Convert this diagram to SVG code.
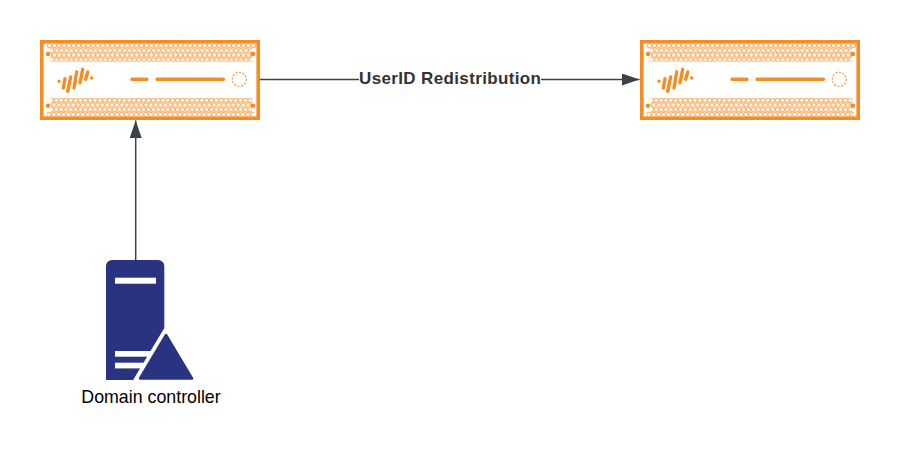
<svg xmlns="http://www.w3.org/2000/svg" xmlns:xlink="http://www.w3.org/1999/xlink" width="900" height="450" viewBox="0 0 900 450">
<style>
.frame{fill:#fff;stroke:#F58D24;stroke-width:3.6}
.hole{fill:none;stroke:#F58D24;stroke-width:.8}
.pin{fill:#F58D24}
.bar{stroke:#F58D24;stroke-width:3.4;stroke-linecap:round;fill:none}
.logo{stroke:#F58D24;stroke-width:3.4;stroke-linecap:round;fill:none}
.wire{stroke:#3A414A;stroke-width:1.5;fill:none}
.label{font-family:"Liberation Sans",Arial,sans-serif;fill:#000}
.navy{fill:#2A3382}
</style>
<defs>
<marker id="head" markerUnits="userSpaceOnUse" markerWidth="18" markerHeight="12" refX="17.500" refY="6" orient="auto"><path d="M0 0L17.500 6L0 12Z" fill="#3A414A"/></marker>
<pattern id="hexa" patternUnits="userSpaceOnUse" x="47" y="43.350" width="4.850" height="9.400"><circle cx="2.425" cy="2.350" r="2.150" class="hole"/><circle cx="0" cy="7.050" r="2.150" class="hole"/><circle cx="4.850" cy="7.050" r="2.150" class="hole"/></pattern>
<pattern id="hexb" patternUnits="userSpaceOnUse" x="49" y="97.950" width="4.850" height="9.400"><circle cx="2.425" cy="2.350" r="2.150" class="hole"/><circle cx="0" cy="7.050" r="2.150" class="hole"/><circle cx="4.850" cy="7.050" r="2.150" class="hole"/></pattern>
<g id="device">
<rect class="frame" x="41.800" y="41.800" width="216.400" height="76.400"/>
<rect x="47" y="43.600" width="209" height="4.700" fill="url(#hexa)"/>
<rect x="50.600" y="48.300" width="201.500" height="13.500" fill="url(#hexa)"/>
<rect x="50.600" y="98" width="201.500" height="14" fill="url(#hexb)"/>
<rect x="47" y="112" width="207" height="4.400" fill="url(#hexb)"/>
<circle class="pin" cx="48" cy="54" r="2.300"/><circle class="pin" cx="253" cy="54" r="2.300"/>
<circle class="pin" cx="48" cy="105.700" r="2.300"/><circle class="pin" cx="253" cy="105.700" r="2.300"/>
<path class="bar" d="M132 79.300H147M157 79.300H223.500"/>
<circle cx="239.300" cy="79.300" r="7" fill="none" stroke="#F58D24" stroke-width="1.100" stroke-dasharray="2 1.600"/>
<path class="logo" d="M59 81.300h.1M63.300 88L65 78.700M67.700 91.300L70.700 77M74 88L76.700 72M80 82.700L82.700 69.300M85.700 79.300L87.700 72M91.700 78h.1"/>
</g>
</defs>
<rect width="900" height="450" fill="#fff"/>
<g id="connectors">
<path class="wire" d="M258 79.500H639.500" marker-end="url(#head)"/>
<path class="wire" d="M135.700 260V120.500" marker-end="url(#head)"/>
</g>
<g id="edge-label">
<rect x="359" y="70" width="182" height="19" fill="#fff"/>
<text class="label" x="450" y="84" text-anchor="middle" font-size="17" font-weight="700" style="fill:#333" textLength="182" lengthAdjust="spacing">UserID Redistribution</text>
</g>
<g id="firewall-left"><use xlink:href="#device" href="#device"/></g>
<g id="firewall-right"><use xlink:href="#device" href="#device" x="600"/></g>
<g id="domain-controller">
<path class="navy" d="M106 380V266a6 6 0 0 1 6-6h46.300a6 6 0 0 1 6 6V380Z"/>
<g fill="#fff"><rect x="115" y="277.700" width="41" height="6"/><rect x="115" y="351" width="36" height="5.700"/><rect x="115" y="362.700" width="30" height="5.700"/></g>
<path d="M166 331L136 381H196Z" fill="#fff" stroke="#fff" stroke-width="6" stroke-linejoin="round"/>
<path d="M166 335L140 378.500H192Z" class="navy" stroke="#2A3382" stroke-width="2.500" stroke-linejoin="round"/>
<rect x="106" y="380" width="90" height="6" fill="#fff"/>
<text class="label" x="151" y="403" text-anchor="middle" font-size="17.800">Domain controller</text>
</g>
</svg>
